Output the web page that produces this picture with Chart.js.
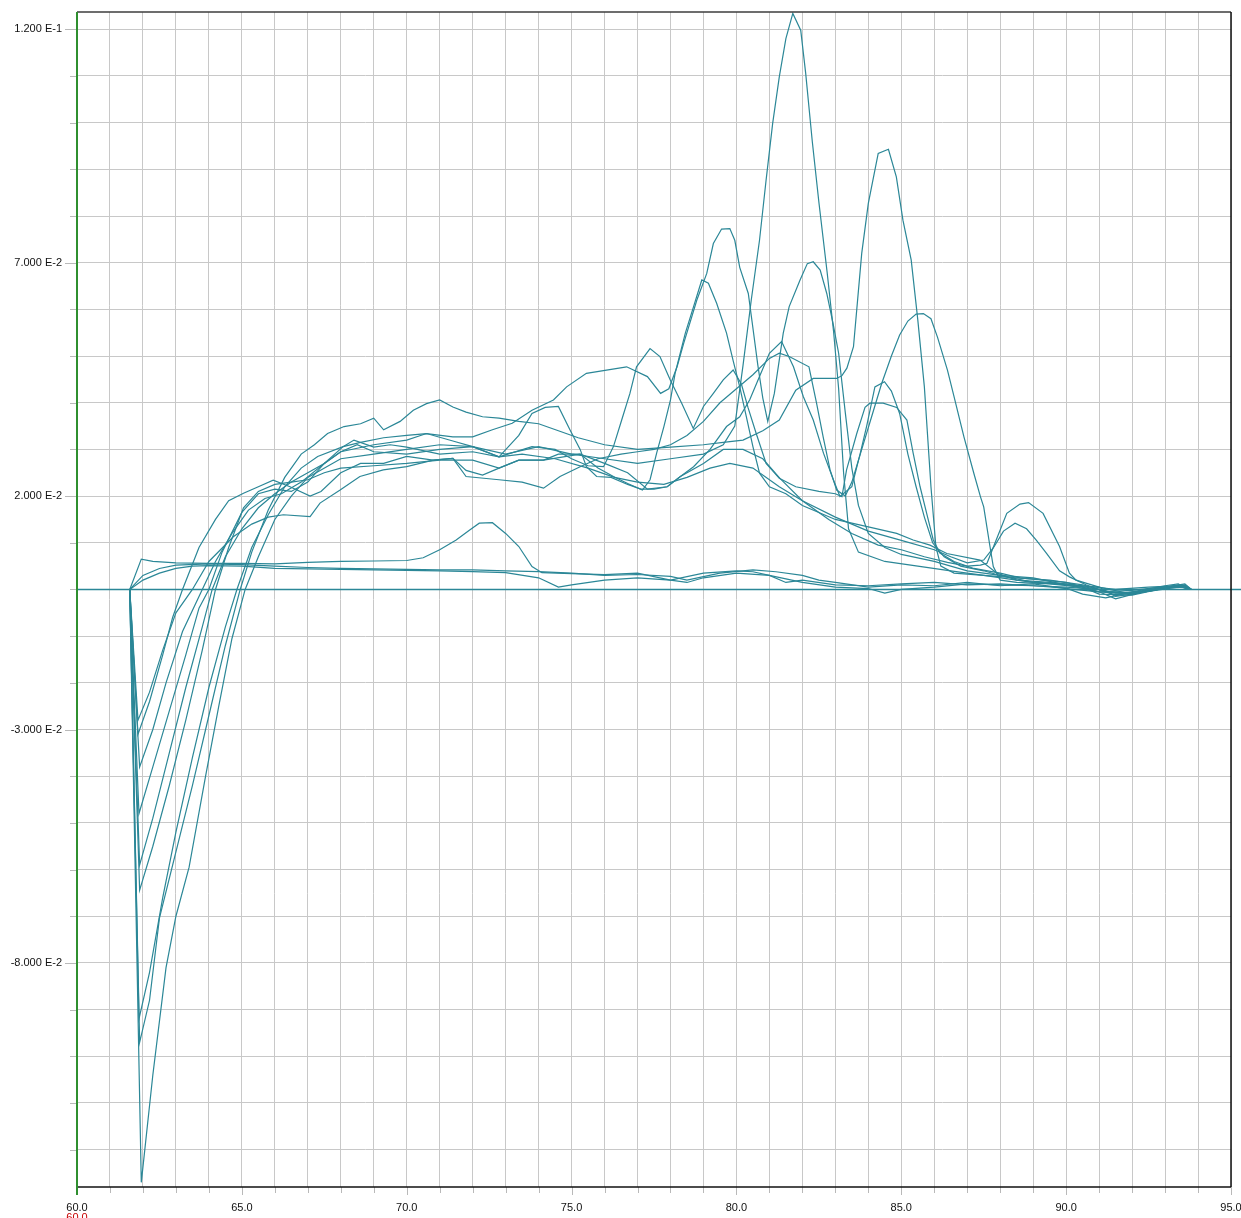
<!DOCTYPE html>
<html><head><meta charset="utf-8">
<script src="https://cdn.jsdelivr.net/npm/chart.js@4.4.1/dist/chart.umd.min.js"></script>
<style>html,body{margin:0;padding:0;background:#fff;overflow:hidden}canvas{display:block}</style>
</head><body>
<canvas id="c" width="1241" height="1218"></canvas>
<script>
// ---- axis ticks ----
const xTickValues = [60,61,62,63,64,65,66,67,68,69,70,71,72,73,74,75,76,77,78,79,80,81,82,83,84,85,86,87,88,89,90,91,92,93,94,95];
const xLabelValues = [60,65,70,75,80,85,90,95];
const xTickLabels = ["60.0","65.0","70.0","75.0","80.0","85.0","90.0","95.0"];
const yTickValues = [0.12,0.11,0.10,0.09,0.08,0.07,0.06,0.05,0.04,0.03,0.02,0.01,0,-0.01,-0.02,-0.03,-0.04,-0.05,-0.06,-0.07,-0.08,-0.09,-0.10,-0.11,-0.12];
const yLabelValues = [0.12,0.07,0.02,-0.03,-0.08];
const yTickLabels = ["1.200 E-1","7.000 E-2","2.000 E-2","-3.000 E-2","-8.000 E-2"];

// ---- baseline (flat zero trace, runs slightly past the right frame) ----
const baseline = [[60,0],[95.4,0]];

// ---- curves: [x, y] pairs ----
const curveA1 = [[61.6,0],[61.95,0.0065],[62.3,0.006],[63,0.0057],[64,0.0056],[65,0.0056],[66,0.0055],[67,0.0058],[68,0.006],[69,0.0061],[70,0.0062],[70.5,0.0068],[71,0.0085],[71.5,0.0106],[71.9,0.0127],[72.2,0.0142],[72.6,0.0143],[73,0.012],[73.4,0.0092],[73.8,0.0049],[74.1,0.0036],[75,0.0034],[76,0.0032],[77,0.0035],[78,0.002],[78.5,0.0015],[79,0.0025],[80,0.0035],[81,0.003],[81.5,0.0015],[82,0.002],[83,0.001],[84,0.0008],[85,0.0012],[86,0.0015],[87,0.001],[88,0.0012],[89,0.0008],[90,0.0005],[91,0],[91.5,-0.0012],[92,-0.0005],[93,0.0008],[93.4,0.0012],[93.7,0]];
const curveA2 = [[61.6,0],[62,0.002],[62.5,0.0035],[63,0.0045],[63.5,0.005],[64,0.0051],[65,0.005],[66,0.0045],[67,0.0044],[68,0.0043],[69,0.0042],[70,0.0041],[71,0.004],[72,0.0038],[73,0.0036],[74,0.0025],[74.6,0.0005],[75,0.001],[76,0.002],[77,0.0025],[78,0.002],[79,0.0035],[80,0.004],[80.5,0.0038],[81,0.003],[82,0.0015],[83,0.0005],[84,0.0002],[84.5,-0.0008],[85,0],[86,0.0005],[87,0.0012],[88,0.001],[89,0.0008],[90,0.0003],[90.5,-0.001],[91.2,-0.0018],[92,-0.0006],[93,0.0005],[93.5,0.001],[93.7,0]];
const curveA3 = [[61.6,0],[62,0.003],[62.5,0.0045],[63,0.0052],[64,0.0055],[65,0.0053],[66,0.005],[67,0.0047],[68,0.0045],[69,0.0044],[70,0.0043],[71,0.0042],[72,0.0042],[73,0.004],[74,0.0038],[75,0.0035],[76,0.003],[77,0.0032],[78,0.0028],[78.5,0.002],[79.5,0.0035],[80.5,0.0042],[81.2,0.0038],[82,0.003],[82.5,0.002],[83,0.0015],[84,0.0005],[85,0.001],[86,0.0008],[87,0.0015],[88,0.0008],[89,0.0012],[90,0.0002],[91,-0.0005],[92,-0.0002],[93,0.0006],[93.6,0.0004],[93.8,0]];
const curveB1 = [[61.6,0],[61.95,-0.127],[62.3,-0.104],[62.7,-0.081],[63.0,-0.070],[63.4,-0.0595],[63.9,-0.040],[64.3,-0.025],[64.7,-0.0105],[65.1,0],[65.5,0.007],[66,0.015],[66.5,0.02],[67,0.024],[68,0.028],[69,0.029],[70,0.030],[71,0.031],[72,0.0306],[73,0.029],[74,0.0306],[75,0.029],[76,0.028],[77,0.027],[78,0.028],[79,0.029],[79.6,0.031],[79.95,0.035],[80.2,0.048],[80.45,0.062],[80.7,0.0748],[80.9,0.0877],[81.1,0.0999],[81.3,0.1098],[81.5,0.118],[81.71,0.1234],[81.95,0.1198],[82.1,0.1106],[82.3,0.096],[82.5,0.083],[82.75,0.068],[82.95,0.055],[83.1,0.043],[83.25,0.025],[83.4,0.013],[83.7,0.008],[84.5,0.006],[85.5,0.005],[86.5,0.004],[87.5,0.003],[88.5,0.002],[89.5,0.0015],[90.5,0.0008],[91.5,0],[92.5,0.0005],[93.5,0.0008],[93.7,0]];
const curveB2 = [[61.6,0],[61.9,-0.097],[62.2,-0.088],[62.5,-0.0704],[63.0,-0.0562],[63.5,-0.042],[64.0,-0.027],[64.5,-0.012],[64.95,0],[65.3,0.008],[65.8,0.017],[66.3,0.024],[66.8,0.029],[67.2,0.031],[67.6,0.0334],[68.1,0.0349],[68.6,0.0355],[69.0,0.0367],[69.3,0.0342],[69.8,0.036],[70.2,0.0384],[70.6,0.0398],[71.0,0.0406],[71.4,0.0391],[71.8,0.038],[72.3,0.037],[72.8,0.0367],[73.4,0.036],[74.0,0.0355],[74.6,0.034],[75.2,0.0325],[76,0.031],[77,0.030],[78,0.0305],[79,0.031],[79.6,0.0315],[80.2,0.032],[80.8,0.034],[81.3,0.0363],[81.8,0.0427],[82.33,0.0452],[83.04,0.0452],[83.2,0.0458],[83.35,0.0474],[83.55,0.052],[83.8,0.072],[84.0,0.0827],[84.3,0.0934],[84.61,0.0943],[84.85,0.0884],[85.05,0.0791],[85.3,0.0706],[85.5,0.0578],[85.7,0.0434],[85.9,0.022],[86.05,0.0091],[86.2,0.005],[86.6,0.0035],[87.5,0.003],[88.5,0.0025],[89.5,0.002],[90.5,0.001],[91.2,-0.0005],[92,-0.0008],[93,0.0005],[93.6,0.0008],[93.8,0]];
const curveB3 = [[61.6,0],[61.88,-0.092],[62.2,-0.082],[62.6,-0.066],[63.0,-0.052],[63.5,-0.036],[64.0,-0.021],[64.5,-0.008],[64.85,0],[65.3,0.009],[65.8,0.016],[66.3,0.022],[66.8,0.026],[67.3,0.0285],[68.07,0.0306],[68.6,0.0315],[69.3,0.0325],[70,0.033],[70.6,0.0334],[71.4,0.0327],[72,0.0327],[72.6,0.0342],[73.2,0.0356],[73.8,0.0384],[74.45,0.0406],[74.85,0.0434],[75.45,0.0463],[76.06,0.047],[76.67,0.0477],[77.3,0.0456],[77.7,0.042],[77.95,0.043],[78.2,0.0477],[78.4,0.0527],[78.8,0.062],[79.1,0.0677],[79.3,0.0741],[79.55,0.0772],[79.8,0.0773],[79.95,0.0748],[80.1,0.069],[80.36,0.0634],[80.5,0.056],[80.65,0.048],[80.8,0.041],[80.95,0.036],[81.15,0.042],[81.42,0.0549],[81.6,0.0606],[81.93,0.0663],[82.15,0.0698],[82.33,0.0702],[82.54,0.0684],[82.74,0.0634],[82.93,0.057],[83.1,0.0506],[83.3,0.038],[83.5,0.026],[83.7,0.018],[84.0,0.012],[84.5,0.009],[85.0,0.0075],[86,0.006],[87,0.004],[88,0.003],[89,0.0015],[90,0.0012],[91,0],[91.5,-0.0008],[92.5,-0.0003],[93.4,0.0008],[93.7,0]];
const curveB4 = [[61.6,0],[61.9,-0.0644],[62.3,-0.055],[62.8,-0.042],[63.3,-0.028],[63.8,-0.013],[64.2,0],[64.6,0.009],[65.05,0.0175],[65.5,0.021],[66,0.0225],[66.5,0.023],[67,0.0235],[67.5,0.025],[68,0.026],[69,0.0265],[70,0.027],[71,0.0277],[72,0.0277],[72.8,0.026],[73.4,0.0277],[74.15,0.0277],[75.26,0.029],[75.8,0.026],[76.27,0.0242],[76.7,0.0227],[77.15,0.0213],[77.38,0.0235],[77.58,0.0292],[77.8,0.0349],[78.0,0.0406],[78.14,0.0463],[78.45,0.0549],[78.7,0.0606],[78.95,0.0663],[79.15,0.0656],[79.4,0.0613],[79.7,0.0549],[79.9,0.049],[80.1,0.0434],[80.3,0.037],[80.5,0.0306],[80.7,0.0249],[81.0,0.022],[81.5,0.0205],[82,0.018],[82.5,0.0165],[83,0.015],[84,0.0134],[84.86,0.012],[85.36,0.0106],[85.87,0.0095],[86.38,0.0077],[87.39,0.0063],[87.9,0.0035],[88.5,0.002],[89,0.0015],[90,0.001],[91,-0.0005],[92,-0.001],[93,0.0003],[93.6,0.0005],[93.8,0]];
const curveB5 = [[61.6,0],[61.9,-0.059],[62.3,-0.049],[62.8,-0.035],[63.3,-0.021],[63.8,-0.008],[64.1,0],[64.5,0.007],[65,0.013],[65.5,0.0175],[66,0.0205],[66.5,0.023],[67,0.025],[67.5,0.027],[68.07,0.0306],[68.4,0.032],[69,0.0305],[69.5,0.031],[70,0.0305],[71,0.029],[72,0.0295],[72.8,0.0284],[73.8,0.0306],[74.5,0.030],[75,0.028],[75.5,0.0265],[75.97,0.0263],[76.27,0.0306],[76.52,0.0363],[76.77,0.042],[76.97,0.0477],[77.38,0.0516],[77.68,0.0499],[77.99,0.0449],[78.34,0.0399],[78.69,0.0345],[79.0,0.0392],[79.3,0.042],[79.6,0.0449],[79.9,0.047],[80.15,0.044],[80.35,0.039],[80.6,0.0334],[80.9,0.027],[81.3,0.0238],[81.8,0.022],[82.5,0.021],[83.0,0.0205],[83.2,0.0199],[83.34,0.0256],[83.65,0.0334],[83.9,0.039],[84.05,0.0399],[84.45,0.0399],[84.86,0.039],[85.17,0.0363],[85.36,0.0292],[85.57,0.022],[85.77,0.0163],[85.97,0.0106],[86.17,0.0078],[86.6,0.006],[87.2,0.0045],[88,0.0035],[88.6,0.0025],[89.3,0.002],[90,0.0015],[91,-0.0005],[91.5,-0.002],[92.3,-0.0005],[93,0.0005],[93.6,0.001],[93.8,0]];
const curveB6 = [[61.6,0],[61.88,-0.048],[62.3,-0.038],[62.8,-0.026],[63.3,-0.014],[63.7,-0.004],[64.0,0],[64.4,0.008],[65,0.0165],[65.5,0.0205],[66,0.0215],[66.5,0.021],[67,0.023],[67.5,0.027],[68,0.0295],[69,0.031],[70,0.032],[70.6,0.0334],[71.4,0.0318],[72,0.0306],[72.8,0.0284],[73.4,0.033],[73.8,0.0377],[74.2,0.039],[74.6,0.0392],[74.95,0.0342],[75.26,0.03],[75.45,0.0263],[75.76,0.0242],[76.2,0.024],[76.7,0.0225],[77.1,0.0215],[77.5,0.0215],[77.9,0.022],[78.3,0.0242],[78.7,0.0263],[79.2,0.03],[79.7,0.0349],[80.1,0.037],[80.4,0.0406],[80.7,0.0456],[81.0,0.0506],[81.37,0.0531],[81.73,0.0477],[82.03,0.0413],[82.33,0.0363],[82.64,0.0292],[82.94,0.0235],[83.14,0.0199],[83.5,0.022],[83.75,0.029],[83.95,0.035],[84.2,0.0434],[84.49,0.0445],[84.7,0.0425],[84.95,0.0377],[85.2,0.029],[85.45,0.022],[85.7,0.0155],[85.95,0.010],[86.3,0.007],[86.8,0.005],[87.5,0.004],[88,0.003],[89,0.0025],[90,0.001],[91,0.0005],[92,-0.001],[93,0.0005],[93.6,0.0012],[93.8,0]];
const curveB7 = [[61.6,0],[61.85,-0.031],[62.2,-0.024],[62.6,-0.014],[62.9,-0.006],[63.2,0],[63.7,0.009],[64.2,0.015],[64.6,0.019],[65.05,0.0206],[65.5,0.022],[65.95,0.0234],[66.46,0.022],[67.07,0.020],[67.4,0.021],[68,0.025],[68.6,0.027],[69.3,0.027],[70,0.0285],[70.8,0.0277],[71.4,0.0281],[71.8,0.0242],[72.8,0.0235],[73.5,0.023],[74.15,0.0217],[74.65,0.0242],[75.26,0.0263],[75.8,0.028],[76.5,0.029],[77,0.0295],[77.5,0.030],[78,0.031],[78.5,0.033],[79,0.036],[79.5,0.040],[80,0.043],[80.5,0.046],[81.0,0.0495],[81.3,0.0506],[81.6,0.0499],[82.2,0.0477],[82.43,0.0399],[82.63,0.0327],[82.84,0.0256],[83.04,0.0213],[83.3,0.020],[83.5,0.023],[83.8,0.030],[84.1,0.037],[84.4,0.044],[84.7,0.050],[84.95,0.0545],[85.2,0.0575],[85.45,0.059],[85.67,0.0591],[85.9,0.058],[86.1,0.054],[86.4,0.047],[86.6,0.0413],[86.9,0.0327],[87.2,0.0249],[87.4,0.0199],[87.5,0.0177],[87.69,0.0092],[87.79,0.0049],[88.0,0.002],[88.5,0.0015],[89.5,0.0012],[90.5,0.0005],[91,-0.001],[92,-0.0012],[92.8,0],[93.5,0.001],[93.8,0]];
const curveB8 = [[61.6,0],[61.85,-0.028],[62.2,-0.022],[62.6,-0.013],[63.0,-0.005],[63.5,0],[64,0.006],[64.74,0.0113],[65.3,0.014],[65.8,0.0155],[66.26,0.016],[67.07,0.0156],[67.37,0.0185],[67.98,0.0213],[68.58,0.0242],[69.29,0.0256],[70.0,0.0263],[70.8,0.0277],[71.4,0.0281],[71.8,0.0255],[72.3,0.0245],[72.8,0.026],[73.4,0.0277],[74.15,0.0277],[74.6,0.029],[75.26,0.029],[76,0.027],[76.7,0.025],[77.3,0.0215],[77.9,0.022],[78.3,0.0242],[79,0.027],[79.6,0.030],[80.2,0.030],[80.8,0.028],[81.32,0.0238],[82,0.019],[82.8,0.015],[83.5,0.012],[84.3,0.0095],[85,0.0085],[85.7,0.007],[86.4,0.0058],[87,0.005],[87.4,0.0052],[87.6,0.0056],[87.8,0.0092],[88.2,0.0163],[88.6,0.0183],[88.86,0.0186],[89.3,0.0163],[89.8,0.0092],[90.1,0.0035],[90.3,0.002],[91,0.0005],[91.5,-0.0015],[92,-0.001],[93,0.0003],[93.6,0.0008],[93.8,0]];
const curveB9 = [[61.6,0],[61.9,-0.038],[62.3,-0.03],[62.7,-0.02],[63.2,-0.009],[63.8,0],[64.2,0.006],[64.7,0.012],[65.2,0.017],[65.7,0.0195],[66.2,0.0205],[66.8,0.023],[67.5,0.027],[68,0.0295],[68.5,0.031],[69,0.0295],[70,0.029],[71,0.030],[72,0.0306],[72.8,0.0284],[73.5,0.029],[74.5,0.028],[75.5,0.026],[76.3,0.024],[77,0.023],[77.8,0.0225],[78.5,0.024],[79.2,0.026],[79.8,0.027],[80.5,0.026],[81.3,0.022],[82,0.019],[83,0.0155],[84,0.0125],[85,0.0105],[86,0.0085],[86.5,0.007],[87,0.0057],[87.5,0.0063],[87.8,0.009],[88.1,0.0125],[88.45,0.0142],[88.8,0.013],[89.1,0.0105],[89.4,0.0078],[89.8,0.004],[90.1,0.0027],[90.6,0.001],[91.2,-0.0005],[92,-0.0008],[92.6,-0.0003],[93.5,0.0006],[93.8,0]];

const curves = [curveA1,curveA2,curveA3,curveB1,curveB2,curveB3,curveB4,curveB5,curveB6,curveB7,curveB8,curveB9];

const LINE = '#2b8797';
const GRID = '#c8c8c8';
const FONT = {family:'"Liberation Sans", Arial, sans-serif', size:11};

const datasets = [{data: baseline.map(p=>({x:p[0],y:p[1]})), borderColor: LINE, borderWidth:1.4, pointRadius:0, showLine:true, clip:false}]
  .concat(curves.map(c => ({
    data: c.map(p => ({x:p[0], y:p[1]})),
    borderColor: LINE, borderWidth: 1.2, pointRadius: 0, showLine: true, tension: 0
  })));

const near = (a,b) => Math.abs(a-b) < 1e-9;

const framePlugin = {
  id: 'frame',
  afterDraw(chart) {
    const ctx = chart.ctx, a = chart.chartArea;
    const xs = chart.scales.x, ys = chart.scales.y;
    ctx.save();
    ctx.strokeStyle = '#b9b9b9'; ctx.lineWidth = 1;
    yTickValues.forEach(v => {
      const py = Math.round(ys.getPixelForValue(v)) + 0.5;
      const len = yLabelValues.some(l => near(l,v)) ? 12 : 7;
      ctx.beginPath(); ctx.moveTo(a.left - len, py); ctx.lineTo(a.left, py); ctx.stroke();
    });
    xTickValues.forEach(v => {
      const px = Math.round(xs.getPixelForValue(v)) + 0.5;
      const len = xLabelValues.includes(v) ? 8 : 6;
      ctx.beginPath(); ctx.moveTo(px, a.bottom); ctx.lineTo(px, a.bottom + len); ctx.stroke();
    });
    ctx.lineWidth = 1.5;
    ctx.strokeStyle = '#3c3c3c';
    ctx.beginPath(); ctx.moveTo(a.left, a.top); ctx.lineTo(a.right, a.top); ctx.stroke();
    ctx.strokeStyle = '#111';
    ctx.beginPath(); ctx.moveTo(a.right, a.top); ctx.lineTo(a.right, a.bottom); ctx.stroke();
    ctx.beginPath(); ctx.moveTo(a.left, a.bottom); ctx.lineTo(a.right, a.bottom); ctx.stroke();
    ctx.strokeStyle = '#2f8f2f'; ctx.lineWidth = 2;
    ctx.beginPath(); ctx.moveTo(a.left, a.top); ctx.lineTo(a.left, a.bottom + 8); ctx.stroke();
    ctx.fillStyle = '#c80000';
    ctx.font = '11px "Liberation Sans", Arial, sans-serif';
    ctx.textAlign = 'center'; ctx.textBaseline = 'top';
    ctx.fillText(xTickLabels[0], xs.getPixelForValue(xLabelValues[0]), 1212);
    ctx.restore();
  }
};

new Chart(document.getElementById('c'), {
  type: 'scatter',
  data: { datasets },
  options: {
    responsive: false, animation: false, devicePixelRatio: 1,
    layout: { padding: { left: 0, right: 10, top: 12, bottom: 0 } },
    plugins: { legend: {display:false}, tooltip: {enabled:false}, title: {display:false} },
    scales: {
      x: {
        type: 'linear', min: 60, max: 95,
        afterBuildTicks: s => { s.ticks = xTickValues.map(v => ({value: v})); },
        afterFit: s => { s.height = 31; s.paddingLeft = 0; s.paddingRight = 0; },
        ticks: {
          autoSkip: false, maxRotation: 0, padding: 14, color: '#111', font: FONT,
          callback: v => { const i = xLabelValues.findIndex(l => near(l,v)); return i >= 0 ? xTickLabels[i] : ''; }
        },
        grid: { color: GRID, lineWidth: 1, drawTicks: false },
        border: { display: false }
      },
      y: {
        type: 'linear', min: -0.128, max: 0.1237,
        afterBuildTicks: s => { s.ticks = yTickValues.map(v => ({value: v})); },
        afterFit: s => { s.width = 77; s.paddingTop = 0; s.paddingBottom = 0; },
        ticks: {
          autoSkip: false, padding: 15, color: '#111', font: FONT,
          callback: v => { const i = yLabelValues.findIndex(l => near(l,v)); return i >= 0 ? yTickLabels[i] : ''; }
        },
        grid: { color: GRID, lineWidth: 1, drawTicks: false },
        border: { display: false }
      }
    }
  },
  plugins: [framePlugin]
});
</script>
</body></html>
